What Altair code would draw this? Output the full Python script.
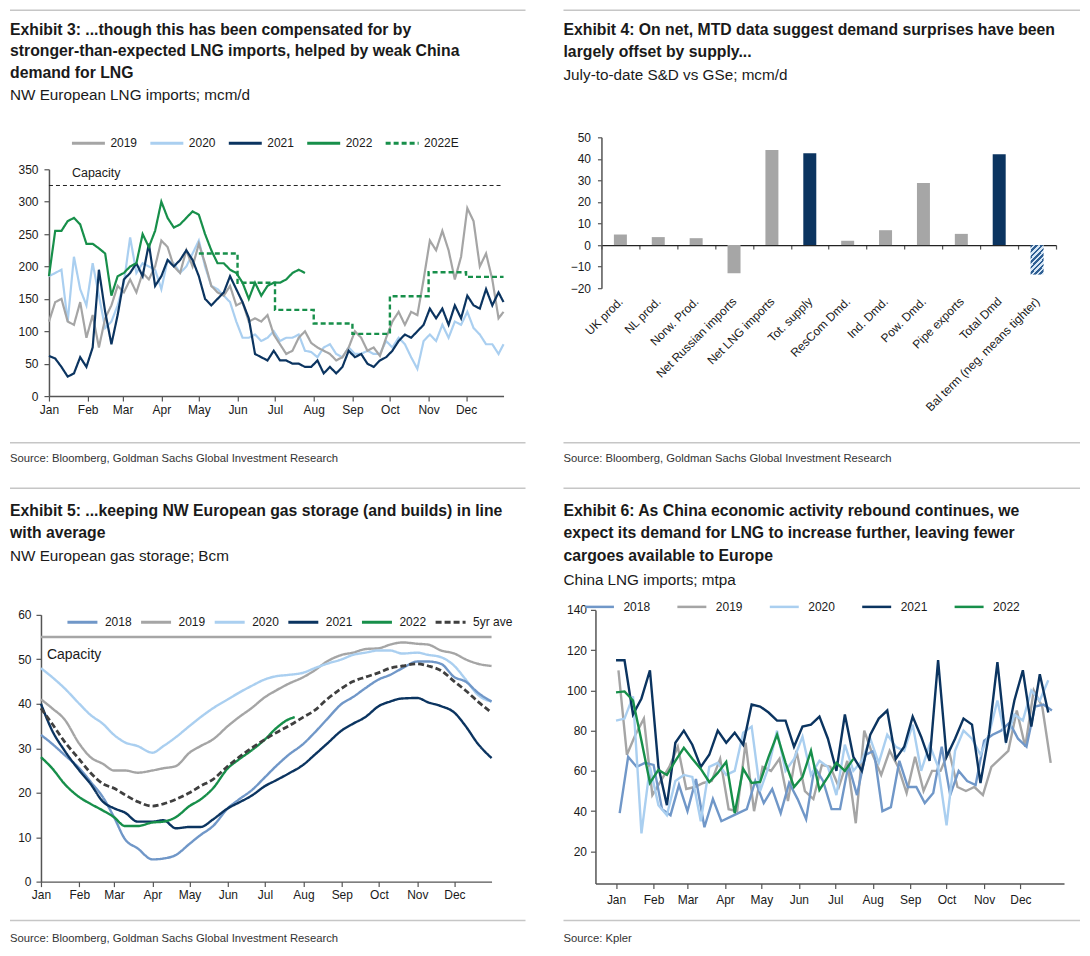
import altair as alt
import pandas as pd

# ---------------- colours / fonts ----------------
NAVY = "#0b3460"
GREEN = "#178f4a"
GRAY = "#a5a5a5"
LIGHT = "#aacff0"
MED = "#7097c8"
DARK = "#3f3f3f"
TXT = "#1a1a1a"
FN = "Liberation Sans, Arial, sans-serif"
FA = "Liberation Sans, Arial, sans-serif"

# ---------------- Exhibit 3 data (NW European LNG imports, mcm/d) ----------------
A_DAYS = list(range(0, 361, 5)) + [364]
A_2019 = [115, 145, 150, 115, 110, 145, 90, 125, 75, 120,
          140, 170, 160, 180, 160, 190, 180, 200, 240, 230,
          200, 190, 225, 200, 235, 205, 170, 160, 155, 170,
          140, 145, 115, 120, 115, 125, 95, 80, 65, 70,
          90, 100, 82, 75, 70, 65, 55, 60, 75, 100,
          90, 70, 75, 62, 90, 115, 130, 110, 130, 125,
          180, 240, 225, 255, 225, 180, 215, 290, 270, 200,
          220, 180, 120, 130]
A_2020 = [185, 190, 195, 115, 215, 165, 140, 205, 155, 105,
          115, 140, 175, 245, 190, 205, 200, 195, 165, 210,
          205, 190, 200, 220, 240, 200, 170, 165, 155, 145,
          115, 90, 90, 95, 85, 90, 100, 85, 90, 90,
          95, 70, 68, 60, 75, 80, 65, 60, 75, 65,
          65, 70, 65, 65, 85, 75, 90, 80, 60, 42,
          85, 95, 85, 110, 90, 115, 110, 130, 105, 95,
          80, 80, 65, 80]
A_2021 = [62, 58, 45, 30, 35, 60, 45, 75, 195, 130,
          80, 125, 180, 190, 205, 185, 235, 170, 185, 210,
          200, 210, 225, 210, 185, 150, 140, 150, 160, 185,
          165, 145, 120, 65, 60, 55, 70, 55, 55, 50,
          50, 45, 45, 55, 35, 45, 35, 45, 70, 60,
          65, 50, 45, 55, 60, 70, 85, 95, 90, 100,
          110, 135, 120, 135, 110, 140, 120, 155, 140, 135,
          165, 140, 160, 145]
A_2022 = [185, 255, 255, 270, 275, 265, 235, 235, 228, 220,
          155, 185, 190, 200, 205, 250, 230, 255, 300, 275,
          260, 265, 275, 285, 280, 250, 225, 205, 205, 195,
          190, 175, 150, 175, 155, 170, 175, 175, 180, 190,
          195, 190]
A_E_DATES = ["2022-05-01", "2022-06-01", "2022-07-01", "2022-08-01", "2022-09-01",
             "2022-10-01", "2022-11-01", "2022-12-01", "2022-12-31"]
A_E_VALS = [220, 175, 133, 112, 96, 154, 191, 184, 184]
A_CAPACITY = 325
A_SERIES = ["2019", "2020", "2021", "2022", "2022E"]

# ---------------- Exhibit 4 data ----------------
B_CATS = ["UK prod.", "NL prod.", "Norw. Prod.", "Net Russian imports", "Net LNG imports",
          "Tot. supply", "ResCom Dmd.", "Ind. Dmd.", "Pow. Dmd.", "Pipe exports",
          "Total Dmd", "Bal term (neg. means tighter)"]
B_VALS = [4.9, 3.7, 3.2, -13.1, 44.1, 42.6, 2.0, 6.9, 28.8, 5.2, 42.2, -13.7]
B_KIND = ["g", "g", "g", "g", "g", "n", "g", "g", "g", "g", "n", "h"]

# ---------------- Exhibit 5 data (storage, Bcm) ----------------
C_DATES = ["2022-01-01", "2022-01-10", "2022-01-20", "2022-02-01", "2022-02-10", "2022-02-20",
           "2022-03-01", "2022-03-10", "2022-03-20", "2022-04-01", "2022-04-10", "2022-04-20",
           "2022-05-01", "2022-05-10", "2022-05-20", "2022-06-01", "2022-06-10", "2022-06-20",
           "2022-07-01", "2022-07-10", "2022-07-20", "2022-08-01", "2022-08-10", "2022-08-20",
           "2022-09-01", "2022-09-10", "2022-09-20", "2022-10-01", "2022-10-10", "2022-10-20",
           "2022-11-01", "2022-11-10", "2022-11-20", "2022-12-01", "2022-12-10", "2022-12-20",
           "2022-12-31"]
C_2018 = [33, 31, 28.5, 25.5, 22.5, 19, 14.5, 9.5, 7.5, 5, 5.2, 6, 8.5, 10.5, 12.5, 16.5, 18.5,
          20.5, 23.5, 26, 28.5, 31, 33.5, 36.5, 40, 41.5, 43.5, 45.5, 46.5, 48, 49.5, 49.5, 49,
          46, 45, 42.5, 40.5]
C_2019 = [41, 39, 36.5, 31, 28, 26.5, 25, 25, 24.5, 25, 25.5, 26, 29, 30.5, 32, 35, 37, 39,
          41.5, 43, 44.5, 46, 47.5, 49.5, 51, 51.5, 52.3, 52.5, 53.3, 53.8, 53.5, 53.3, 52,
          51.3, 50, 49, 48.5]
C_2020 = [48, 46, 43.5, 40, 37.5, 35.5, 33, 31.3, 30.5, 29, 30.5, 32.5, 35, 37, 39, 41, 42.5,
          44, 45.5, 46.2, 46.5, 47, 48, 49, 50, 51, 51.5, 52, 52, 51.3, 51.5, 51, 50.5, 48.5,
          45.5, 42, 40.5]
C_2021 = [40, 34, 29.5, 25, 22, 18, 16.5, 15.5, 13.5, 13.5, 13.8, 12, 12.3, 12.3, 14, 16.5,
          17.8, 19.3, 21.5, 22.8, 24.3, 26.3, 28.5, 31, 34, 35.5, 37, 39.5, 40.5, 41.2, 41.3,
          40.3, 39.5, 38, 35, 31, 27.8]
C_2022_DATES = C_DATES[:21] + ["2022-07-25"]
C_2022 = [28, 25.5, 22, 19, 17.5, 16, 14.5, 12.5, 12.5, 13.3, 13.5, 14.5, 17, 18.5, 21, 25.5,
          27.5, 29.5, 32, 34.5, 36.5, 37]
C_5YR = [39, 35.5, 31.5, 27.5, 24.5, 22, 21, 19.5, 18, 17, 17.5, 18.5, 20, 21.5, 23, 26, 28,
         30, 32, 33.5, 35, 37, 38.5, 41, 43.5, 45, 46, 47, 48, 48.5, 49, 48.5, 47.5, 45, 43,
         40.5, 38]
C_CAPACITY = 55
C_SERIES = ["2018", "2019", "2020", "2021", "2022", "5yr ave"]

# ---------------- Exhibit 6 data (China LNG imports, mtpa, weekly) ----------------
D_2018 = [39, 67, 62, 64, 63, 41, 38, 53, 40, 56, 32, 46, 35, 37, 39, 41, 55, 44, 51, 39,
          54, 46, 36, 62, 55, 41, 41, 63, 48, 68, 70, 40, 42, 65, 52, 52, 44, 49, 72, 48,
          60, 55, 53, 75, 78, 80, 84, 76, 72, 92, 93, 90]
D_2019 = [110, 68, 78, 86, 48, 55, 62, 72, 51, 52, 54, 55, 66, 41, 40, 74, 40, 62, 60, 66,
          45, 70, 50, 46, 63, 62, 52, 65, 34, 80, 68, 58, 70, 62, 49, 67, 50, 60, 60, 70,
          52, 50, 52, 48, 62, 66, 70, 90, 72, 100, 92, 64]
D_2020 = [85, 86, 97, 29, 62, 43, 38, 55, 58, 57, 35, 62, 64, 58, 60, 79, 82, 50, 62, 80,
          60, 66, 77, 58, 65, 62, 48, 73, 60, 65, 76, 64, 78, 72, 70, 83, 60, 73, 62, 33,
          70, 80, 76, 68, 78, 95, 75, 88, 85, 100, 95, 105]
D_2021 = [115, 115, 88, 96, 110, 62, 43, 74, 80, 73, 62, 68, 80, 74, 79, 73, 93, 92, 89, 85,
          85, 72, 82, 83, 87, 76, 60, 88, 67, 60, 78, 86, 90, 66, 72, 87, 77, 65, 115, 67,
          76, 86, 83, 54, 78, 114, 74, 95, 110, 82, 108, 89]
D_2022 = [99, 99.5, 95, 75, 54, 60.5, 58, 65, 71.5, 66, 61, 54.5, 59, 64.5, 39, 61, 54, 54.5,
          67, 78, 64, 52, 57, 70, 50.5, 57, 64, 60, 66]
D_START = {"2018": "2022-01-04", "2019": "2022-01-03", "2020": "2022-01-01",
           "2021": "2022-01-01", "2022": "2022-01-01"}
D_SERIES = ["2018", "2019", "2020", "2021", "2022"]

# ---------------- text ----------------
A_TITLE = ["Exhibit 3: ...though this has been compensated for by",
           "stronger-than-expected LNG imports, helped by weak China",
           "demand for LNG"]
A_SUB = "NW European LNG imports; mcm/d"
B_TITLE = ["Exhibit 4: On net, MTD data suggest demand surprises have been",
           "largely offset by supply..."]
B_SUB = "July-to-date S&D vs GSe; mcm/d"
C_TITLE = ["Exhibit 5: ...keeping NW European gas storage (and builds) in line",
           "with average"]
C_SUB = "NW European gas storage; Bcm"
D_TITLE = ["Exhibit 6: As China economic activity rebound continues, we",
           "expect its demand for LNG to increase further, leaving fewer",
           "cargoes available to Europe"]
D_SUB = "China LNG imports; mtpa"
SRC_GS = "Source: Bloomberg, Goldman Sachs Global Investment Research"
SRC_K = "Source: Kpler"

# ---------------- helpers ----------------
ONE = pd.DataFrame({"k": [0]})
MONTH_DT = [alt.DateTime(year=2022, month=m, date=1) for m in range(1, 13)]


def txt(s, x, y, size, weight="normal", color=TXT, font=FN):
    return alt.Chart(ONE).mark_text(text=s, align="left", baseline="middle", font=font,
                                    fontSize=size, fontWeight=weight, color=color).encode(
        x=alt.value(x), y=alt.value(y))


def hrule(x0, x1, y, color="#c6c6c6", w=1.5):
    return alt.Chart(ONE).mark_rule(color=color, strokeWidth=w).encode(
        x=alt.value(x0), x2=alt.value(x1), y=alt.value(y))


def frame(x0, x1, y0, y1):
    return alt.Chart(ONE).mark_rect(opacity=0).encode(
        x=alt.value(x0), x2=alt.value(x1), y=alt.value(y0), y2=alt.value(y1))


def deco(fr, rx, top_y, titles, t_y, sub, sub_y, src, src_rule_y, src_y):
    x0, x1 = rx
    out = [frame(*fr), hrule(x0, x1, top_y)]
    for t, y in zip(titles, t_y):
        out.append(txt(t, x0, y, 15.8, "bold"))
    out.append(txt(sub, x0, sub_y, 15.3))
    out.append(hrule(x0, x1, src_rule_y))
    out.append(txt(src, x0, src_y, 11.3, color="#333333"))
    return out


AX = dict(labelFont=FA, labelFontSize=12, labelColor=TXT, domainColor="#555555",
          tickColor="#555555", domainWidth=1.5, tickWidth=1.2, grid=False, title=None)


def month_axis(pad=3):
    return alt.Axis(values=MONTH_DT, format="%b", labelFlush=False, labelOverlap=False,
                    tickSize=5, labelPadding=pad, **AX)


def y_axis(vals, pad, offset=0):
    return alt.Axis(values=vals, tickSize=5, labelPadding=pad, labelFlush=False,
                    labelOverlap=False, offset=offset, **AX)


def legend(x, y, size, sw, off, colpad):
    return alt.Legend(title=None, orient="none", legendX=x, legendY=y, direction="horizontal",
                      symbolType="stroke", symbolSize=size, symbolStrokeWidth=sw,
                      labelFont=FA, labelFontSize=12, labelColor=TXT, labelOffset=off,
                      columnPadding=colpad, padding=0)


# ================= Exhibit 3 =================
# view origin shared with the other panels of its row / column; plot inset by (8, 32)
AW, AH, AXO, AYO = 455, 227, 8, 32
base = pd.Timestamp("2022-01-01")
rows = []
for s, vals in [("2019", A_2019), ("2020", A_2020), ("2021", A_2021), ("2022", A_2022)]:
    for d, v in zip(A_DAYS, vals):
        rows.append({"date": base + pd.Timedelta(days=d), "val": v, "sa": s})
dfA = pd.DataFrame(rows)
dfAE = pd.DataFrame({"date": pd.to_datetime(A_E_DATES), "val": A_E_VALS, "sa": "2022E"})
dfAcap = pd.DataFrame({"val": [A_CAPACITY]})

xA = alt.X("date:T", scale=alt.Scale(domain=[alt.DateTime(year=2022, month=1, date=1),
                                             alt.DateTime(year=2022, month=12, date=31)],
                                     nice=False, range=[AXO, AXO + AW]), axis=month_axis(3))
yA = alt.Y("val:Q", scale=alt.Scale(domain=[0, 350], nice=False, range=[AYO + AH, AYO]),
           axis=y_axis(list(range(0, 351, 50)), 6, offset=-AXO))
legA = legend(29.5, -12, 1089, 3, 4, 6.5)
colA = alt.Color("sa:N", scale=alt.Scale(domain=A_SERIES,
                                         range=[GRAY, LIGHT, NAVY, GREEN, GREEN]), legend=legA)
dashA = alt.StrokeDash("sa:N", scale=alt.Scale(domain=A_SERIES,
                                               range=[[1, 0], [1, 0], [1, 0], [1, 0], [5, 3]]),
                       legend=legA)


def lineA(s):
    return alt.Chart(dfA).transform_filter(alt.datum.sa == s).mark_line(
        strokeWidth=2.2).encode(x=xA, y=yA, color=colA, strokeDash=dashA)


capA = alt.Chart(dfAcap).mark_rule(color="#222222", strokeWidth=1, strokeDash=[4, 3]).encode(
    y=yA, x=alt.value(AXO), x2=alt.value(AXO + AW))
capA_t = txt("Capacity", 23 + AXO, 3.7 + AYO, 12.5, font=FA)
estA = alt.Chart(dfAE).mark_line(strokeWidth=2.4, interpolate="step-after").encode(
    x=xA, y=yA, color=colA, strokeDash=dashA)

panelA = alt.layer(
    *deco((-31, 491, -128, 334), (-31, 485), -127.25, A_TITLE, [-107.7, -86, -64.3], A_SUB,
          -42, SRC_GS, 305.7, 321.8),
    capA, capA_t, lineA("2020"), lineA("2019"), lineA("2021"), lineA("2022"), estA
).properties(width=AXO + AW, height=AYO + AH)

# ================= Exhibit 4 =================
dfB = pd.DataFrame({"cat": B_CATS, "val": B_VALS, "kind": B_KIND})
HB = 151
zero_y = HB * 50 / 70
xB = alt.X("cat:N", scale=alt.Scale(domain=B_CATS, paddingInner=0, paddingOuter=0),
           axis=alt.Axis(labelAngle=-45, labelAlign="right", labelBaseline="middle",
                         tickBand="extent", offset=-(HB - zero_y), tickSize=4,
                         labelPadding=50, labelOffset=0, labelOverlap=False,
                         labelLimit=300, **{**AX, "domainColor": "#222222", "domainWidth": 1.3}))
yB = alt.Y("val:Q", scale=alt.Scale(domain=[-20, 50], nice=False),
           axis=alt.Axis(values=list(range(-20, 51, 10)), tickSize=4, labelPadding=7, **AX))
barsB = alt.Chart(dfB).transform_filter(alt.datum.kind != "h").mark_bar(size=13).encode(
    x=xB, y=yB,
    color=alt.Color("kind:N", scale=alt.Scale(domain=["g", "n"], range=["#a6a6a6", NAVY]),
                    legend=None))
stops = []
for i in range(8):
    a, b = i / 8, (i + 0.5) / 8
    stops += [alt.GradientStop(offset=a, color="#2f5f93"), alt.GradientStop(offset=b, color="#2f5f93"),
              alt.GradientStop(offset=b, color="#d6e6f5"),
              alt.GradientStop(offset=(i + 1) / 8, color="#d6e6f5")]
HATCH = alt.LinearGradient(gradient="linear", stops=stops, x1=0, y1=0, x2=0.55, y2=1.2)
hatchB = alt.Chart(dfB).transform_filter(alt.datum.kind == "h").mark_bar(
    size=13, fill=HATCH).encode(x=xB, y=yB)

panelB = alt.layer(
    *deco((-38, 479, -128, 334), (-38, 479), -127.25, B_TITLE, [-107.7, -85.5], B_SUB, -62,
          SRC_GS, 305.7, 321.8),
    barsB, hatchB
).properties(width=455, height=HB)

# ================= Exhibit 5 =================
rows = []
for s, vals in [("2018", C_2018), ("2019", C_2019), ("2020", C_2020), ("2021", C_2021),
                ("5yr ave", C_5YR)]:
    for d, v in zip(C_DATES, vals):
        rows.append({"date": pd.Timestamp(d), "val": v, "sc": s})
for d, v in zip(C_2022_DATES, C_2022):
    rows.append({"date": pd.Timestamp(d), "val": v, "sc": "2022"})
dfC = pd.DataFrame(rows)
dfCcap = pd.DataFrame({"val": [C_CAPACITY]})

xC = alt.X("date:T", scale=alt.Scale(domain=[alt.DateTime(year=2022, month=1, date=1),
                                             alt.DateTime(year=2022, month=12, date=31)],
                                     nice=False), axis=month_axis(3))
yC = alt.Y("val:Q", scale=alt.Scale(domain=[0, 60], nice=False),
           axis=y_axis(list(range(0, 61, 10)), 5))
legC = legend(25, -9.3, 900, 3, 6, 2.7)
colC = alt.Color("sc:N", scale=alt.Scale(domain=C_SERIES,
                                         range=[MED, GRAY, LIGHT, NAVY, GREEN, DARK]),
                 legend=legC)
dashC = alt.StrokeDash("sc:N", scale=alt.Scale(domain=C_SERIES,
                                               range=[[1, 0]] * 5 + [[6, 3]]), legend=legC)


def lineC(s, w=2.4):
    return alt.Chart(dfC).transform_filter(alt.datum.sc == s).mark_line(
        strokeWidth=w, interpolate="monotone").encode(x=xC, y=yC, color=colC, strokeDash=dashC)


capC = alt.Chart(dfCcap).mark_rule(color="#a6a6a6", strokeWidth=2.5).encode(y=yC)
capC_t = txt("Capacity", 6, 40, 14, font=FA)

panelC = alt.layer(
    *deco((-31, 491, -128, 334), (-31, 485), -126.7, C_TITLE, [-104, -82.3], C_SUB, -59,
          SRC_GS, 306, 324),
    capC, capC_t, lineC("2019"), lineC("2020"), lineC("2018"), lineC("2021"), lineC("2022"),
    lineC("5yr ave", 2.8)
).properties(width=451, height=267)

# ================= Exhibit 6 =================
rows = []
for s, vals in [("2018", D_2018), ("2019", D_2019), ("2020", D_2020), ("2021", D_2021),
                ("2022", D_2022)]:
    st = pd.Timestamp(D_START[s])
    for w, v in enumerate(vals):
        rows.append({"date": st + pd.Timedelta(days=7 * w), "val": v, "sd": s})
dfD = pd.DataFrame(rows)

xD = alt.X("date:T", scale=alt.Scale(domain=[alt.DateTime(year=2021, month=12, date=15),
                                             alt.DateTime(year=2023, month=1, date=6)],
                                     nice=False), axis=month_axis(5.5))
yD = alt.Y("val:Q", scale=alt.Scale(domain=[4, 140], nice=False),
           axis=y_axis(list(range(20, 141, 20)), 4))
legD = legend(-12, -19, 841, 2.5, 8, 21.5)
colD = alt.Color("sd:N", scale=alt.Scale(domain=D_SERIES,
                                         range=[MED, GRAY, LIGHT, NAVY, GREEN]), legend=legD)


def lineD(s):
    return alt.Chart(dfD).transform_filter(alt.datum.sd == s).mark_line(
        strokeWidth=2.4).encode(x=xD, y=yD, color=colD)


panelD = alt.layer(
    *deco((-32, 485, -123, 339), (-32, 485), -121.7, D_TITLE, [-99, -76.5, -54], D_SUB, -29.7,
          SRC_K, 311, 329),
    lineD("2019"), lineD("2018"), lineD("2020"), lineD("2021"), lineD("2022")
).properties(width=469, height=274)

IND = dict(color="independent", strokeDash="independent")
chart = alt.concat(panelA, panelB, panelC, panelD, columns=2, align="none",
                   spacing={"row": 14, "column": 29}).resolve_scale(**IND).resolve_legend(
    **IND).properties(padding=0, background="white").configure_view(stroke="transparent")

chart.save("out.html", embed_options={"renderer": "svg", "actions": False})
